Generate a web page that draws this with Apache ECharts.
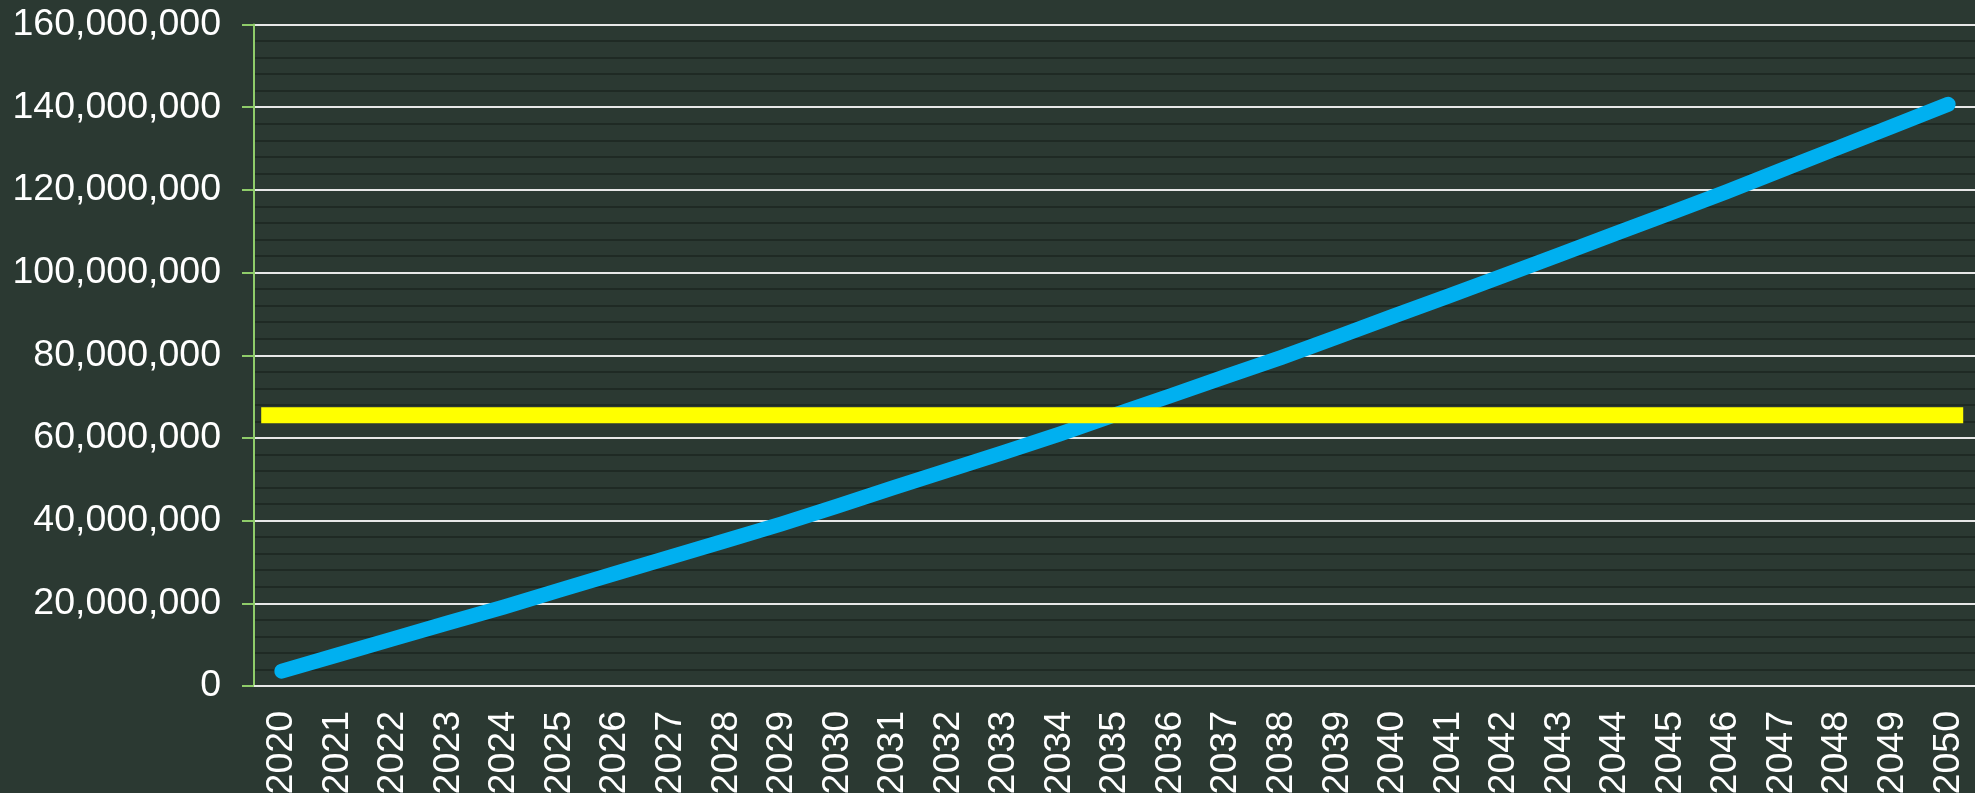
<!DOCTYPE html>
<html>
<head>
<meta charset="utf-8">
<script src="https://cdn.jsdelivr.net/npm/echarts@6/dist/echarts.min.js"></script>
<style>
  html, body { margin: 0; padding: 0; background: #2b3932; }
  #main { width: 1975px; height: 793px; }
</style>
</head>
<body>
<div id="main"></div>
<script>
// years on the x axis
var years = [];
for (var y = 2020; y <= 2050; y++) years.push(String(y));

// blue curve (in millions)
var growthM = [
  3.6, 7.5, 11.4, 15.3, 19.1, 23.2, 27.2, 31.2, 35.2, 39.2,
  43.5, 47.9, 52.2, 56.5, 60.9, 65.6, 70.2, 74.9, 79.5, 84.4,
  89.4, 94.3, 99.3, 104.3, 109.4, 114.4, 119.5, 124.8, 130.1, 135.4,
  140.7
];

// yellow flat line: level and where it starts / stops along the years
var targetM = 65.5;
var targetSpan = [2019.63, 2050.27];

// y axis ticks
var yMax = 160000000;
var yStep = 20000000;

var growth = growthM.map(function (v) { return v * 1e6; });
var target = targetSpan.map(function (x) { return [x, targetM * 1e6]; });

var myChart = echarts.init(document.getElementById('main'));

var textColor = '#ffffff';
var font = 'Liberation Sans, Arial, sans-serif';

var option = {
  backgroundColor: '#2b3932',
  animation: false,
  grid: {
    left: 254,
    top: 24.5,
    width: 1722,
    bottom: 107,
    containLabel: false,
    outerBoundsMode: 'none'
  },
  xAxis: [{
    type: 'category',
    data: years,
    boundaryGap: true,
    axisLine: { show: true, lineStyle: { color: '#e8e8e8', width: 2 } },
    axisTick: { show: false },
    splitLine: { show: false },
    axisLabel: {
      rotate: 90,
      interval: 0,
      margin: 25,
      color: textColor,
      fontSize: 37.5,
      fontFamily: font
    }
  }, {
    // hidden helper axis so the flat line can run past the first/last year
    type: 'value',
    min: 2019.5,
    max: 2050.5,
    show: false
  }],
  yAxis: {
    type: 'value',
    min: 0,
    max: yMax,
    interval: yStep,
    axisLine: { show: true, lineStyle: { color: '#8fcc6a', width: 2 } },
    axisTick: { show: true, length: 12, lineStyle: { color: '#8fcc6a', width: 2 } },
    axisLabel: {
      margin: 33,
      color: textColor,
      fontSize: 37.5,
      fontFamily: font,
      formatter: function (v) { return v.toLocaleString('en-US'); }
    },
    splitLine: { show: true, lineStyle: { color: '#e8e8e8', width: 2 } },
    minorTick: { show: false, splitNumber: 5 },
    minorSplitLine: { show: true, lineStyle: { color: '#1f2a24', width: 2 } }
  },
  series: [
    {
      name: 'growth',
      type: 'line',
      data: growth,
      symbol: 'none',
      smooth: false,
      lineStyle: { color: '#00b0f0', width: 15, cap: 'round', join: 'round' },
      z: 3
    },
    {
      name: 'target',
      type: 'line',
      xAxisIndex: 1,
      data: target,
      symbol: 'none',
      lineStyle: {
        color: '#ffff00',
        width: 16,
        cap: 'butt',
        shadowColor: 'rgba(90,90,20,0.9)',
        shadowBlur: 1
      },
      z: 4
    }
  ]
};

myChart.setOption(option);
</script>
</body>
</html>
